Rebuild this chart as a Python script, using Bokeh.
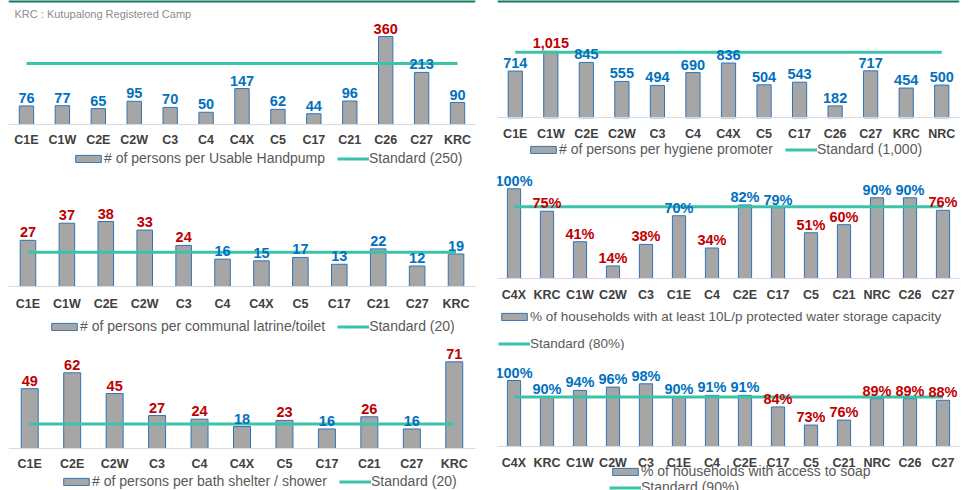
from bokeh.plotting import figure
from bokeh.layouts import row, column
from bokeh.models import (Legend, LegendItem, ColumnDataSource, Range1d, FactorRange,
                          Label, Span)
from bokeh.core.properties import value
from bokeh.embed import file_html
from bokeh.resources import INLINE

# ---------------- data ----------------
hp_cats = ["C1E", "C1W", "C2E", "C2W", "C3", "C4", "C4X", "C5", "C17", "C21", "C26", "C27", "KRC"]
hp_vals = [76, 77, 65, 95, 70, 50, 147, 62, 44, 96, 360, 213, 90]
hp_std = 250
hp_flags = ["ok", "ok", "ok", "ok", "ok", "ok", "ok", "ok", "ok", "ok", "bad", "ok", "ok"]

hyg_cats = ["C1E", "C1W", "C2E", "C2W", "C3", "C4", "C4X", "C5", "C17", "C26", "C27", "KRC", "NRC"]
hyg_vals = [714, 1015, 845, 555, 494, 690, 836, 504, 543, 182, 717, 454, 500]
hyg_std = 1000
hyg_flags = ["ok", "bad", "ok", "ok", "ok", "ok", "ok", "ok", "ok", "ok", "ok", "ok", "ok"]

lat_cats = ["C1E", "C1W", "C2E", "C2W", "C3", "C4", "C4X", "C5", "C17", "C21", "C27", "KRC"]
lat_vals = [27, 37, 38, 33, 24, 16, 15, 17, 13, 22, 12, 19]
lat_std = 20
lat_flags = ["bad", "bad", "bad", "bad", "bad", "ok", "ok", "ok", "ok", "ok", "ok", "ok"]

wat_cats = ["C4X", "KRC", "C1W", "C2W", "C3", "C1E", "C4", "C2E", "C17", "C5", "C21", "NRC", "C26", "C27"]
wat_vals = [100, 75, 41, 14, 38, 70, 34, 82, 79, 51, 60, 90, 90, 76]
wat_std = 80
wat_flags = ["ok", "bad", "bad", "bad", "bad", "ok", "bad", "ok", "ok", "bad", "bad", "ok", "ok", "bad"]

bath_cats = ["C1E", "C2E", "C2W", "C3", "C4", "C4X", "C5", "C17", "C21", "C27", "KRC"]
bath_vals = [49, 62, 45, 27, 24, 18, 23, 16, 26, 16, 71]
bath_std = 20
bath_flags = ["bad", "bad", "bad", "bad", "bad", "ok", "bad", "ok", "bad", "ok", "bad"]

soap_cats = ["C4X", "KRC", "C1W", "C2W", "C3", "C1E", "C4", "C2E", "C17", "C5", "C21", "NRC", "C26", "C27"]
soap_vals = [100, 90, 94, 96, 98, 90, 91, 91, 84, 73, 76, 89, 89, 88]
soap_std = 90
soap_flags = ["ok", "ok", "ok", "ok", "ok", "ok", "ok", "ok", "bad", "bad", "bad", "bad", "bad", "bad"]

# ---------------- style ----------------
BAR_FILL = "#A6A6A6"
BAR_LINE = "#2E75B6"
STD_COLOR = "#3DC2AA"
OK_COLOR = "#0070C0"
BAD_COLOR = "#C00000"
AXIS_TEXT = "#404040"
LEG_TEXT = "#595959"
TOP_RULE = "#137A66"
FONT = "Liberation Sans"


def panel(cats, vals, std, flags, leg_bar, leg_std, *, width, height, left, right,
          base_px, scale, y0=0, leg_xy=(0, 0), pct=False, vertical=False,
          leg_spacing=12, thousands=False, label_h=14, leg_font="14px",
          standoff=8, top_rule=False):
    # frame spans the whole figure height; baseline sits base_px from the top
    y1 = y0 + base_px / scale
    ys = y0 - (height - base_px) / scale
    p = figure(width=width, height=height,
               x_range=FactorRange(*cats), y_range=Range1d(ys, y1),
               output_backend="svg", toolbar_location=None,
               min_border_left=left, min_border_right=right, min_border_top=0,
               min_border_bottom=0, outline_line_color=None)
    p.grid.visible = False
    p.yaxis.visible = False
    ax = p.xaxis[0]
    ax.fixed_location = y0
    ax.axis_line_color = "#D9D9D9"
    ax.major_tick_line_color = None
    ax.minor_tick_line_color = None
    ax.major_tick_out = 0
    ax.major_tick_in = 0
    ax.major_label_standoff = standoff
    ax.major_label_text_font = FONT
    ax.major_label_text_font_size = "12.5px"
    ax.major_label_text_font_style = "bold"
    ax.major_label_text_color = AXIS_TEXT

    if pct:
        labels = [f"{v}%" for v in vals]
    elif thousands:
        labels = [f"{v:,}" for v in vals]
    else:
        labels = [str(v) for v in vals]
    colors = [OK_COLOR if f == "ok" else BAD_COLOR for f in flags]
    src = ColumnDataSource(dict(x=cats, top=vals, lab=labels, col=colors))
    bars = p.vbar(x="x", top="top", bottom=y0, width=0.40, source=src,
                  fill_color=BAR_FILL, line_color=BAR_LINE, line_width=1)
    stdl = p.line(x=cats, y=[std] * len(cats), line_color=STD_COLOR, line_width=3)
    p.text(x="x", y="top", text="lab", source=src, text_color="col",
           text_align="center", text_baseline="alphabetic", y_offset=-8,
           text_font=value(FONT), text_font_size="14.5px", text_font_style="bold")

    leg = Legend(items=[LegendItem(label=leg_bar, renderers=[bars]),
                        LegendItem(label=leg_std, renderers=[stdl])],
                 orientation="vertical" if vertical else "horizontal",
                 location=leg_xy, label_text_font=FONT,
                 label_text_font_size=leg_font, label_text_color=LEG_TEXT,
                 glyph_width=32, glyph_height=9, label_height=label_h,
                 label_standoff=0, spacing=leg_spacing, padding=0,
                 margin=0, border_line_color=None,
                 background_fill_alpha=0)
    p.add_layout(leg)
    if top_rule:
        p.add_layout(Span(location=y1, dimension="width", line_color=TOP_RULE,
                          line_width=4))
    return p


tl = panel(hp_cats, hp_vals, hp_std, hp_flags,
           "# of persons per Usable Handpump", "Standard (250)",
           width=482, height=170, left=7, right=7, base_px=124, scale=0.2444,
           leg_xy=(64, 4), standoff=8, top_rule=True)
tl.add_layout(Label(x=6, y=157, x_units="screen", y_units="screen",
                    text="KRC : Kutupalong Registered Camp", text_font=FONT,
                    text_font_size="11px", text_color="#8C8C8C",
                    text_baseline="middle"))
ml = panel(lat_cats, lat_vals, lat_std, lat_flags,
           "# of persons per communal latrine/toilet", "Standard (20)",
           width=482, height=170, left=8, right=2, base_px=116, scale=1.71,
           leg_xy=(40, 6), standoff=10)
bl = panel(bath_cats, bath_vals, bath_std, bath_flags,
           "# of persons per bath shelter / shower", "Standard (20)",
           width=482, height=150, left=4, right=5, base_px=108, scale=1.221,
           leg_xy=(52, 1), standoff=8)

tr = panel(hyg_cats, hyg_vals, hyg_std, hyg_flags,
           "# of persons per hygiene promoter", "Standard (1,000)",
           width=486, height=160, left=11, right=7, base_px=117.3, scale=0.0655,
           leg_xy=(30, 3), thousands=True, standoff=9, top_rule=True)
mr = panel(wat_cats, wat_vals, wat_std, wat_flags,
           "% of households with at least 10L/p protected water storage capacity",
           "Standard (80%)",
           width=486, height=190, left=11, right=9, base_px=118, scale=0.897,
           leg_xy=(1, -0.5), pct=True, vertical=True, leg_spacing=12,
           leg_font="13.5px", standoff=9)
br = panel(soap_cats, soap_vals, soap_std, soap_flags,
           "% of households with access to soap", "Standard (90%)",
           width=486, height=140, left=15, right=5, base_px=96, scale=1.65, y0=60,
           leg_xy=(112, -5), pct=True, vertical=True, leg_spacing=-3, label_h=13,
           standoff=9)

layout = row(column(tl, ml, bl), column(tr, mr, br))
open("out.html", "w").write(file_html(layout, INLINE))
